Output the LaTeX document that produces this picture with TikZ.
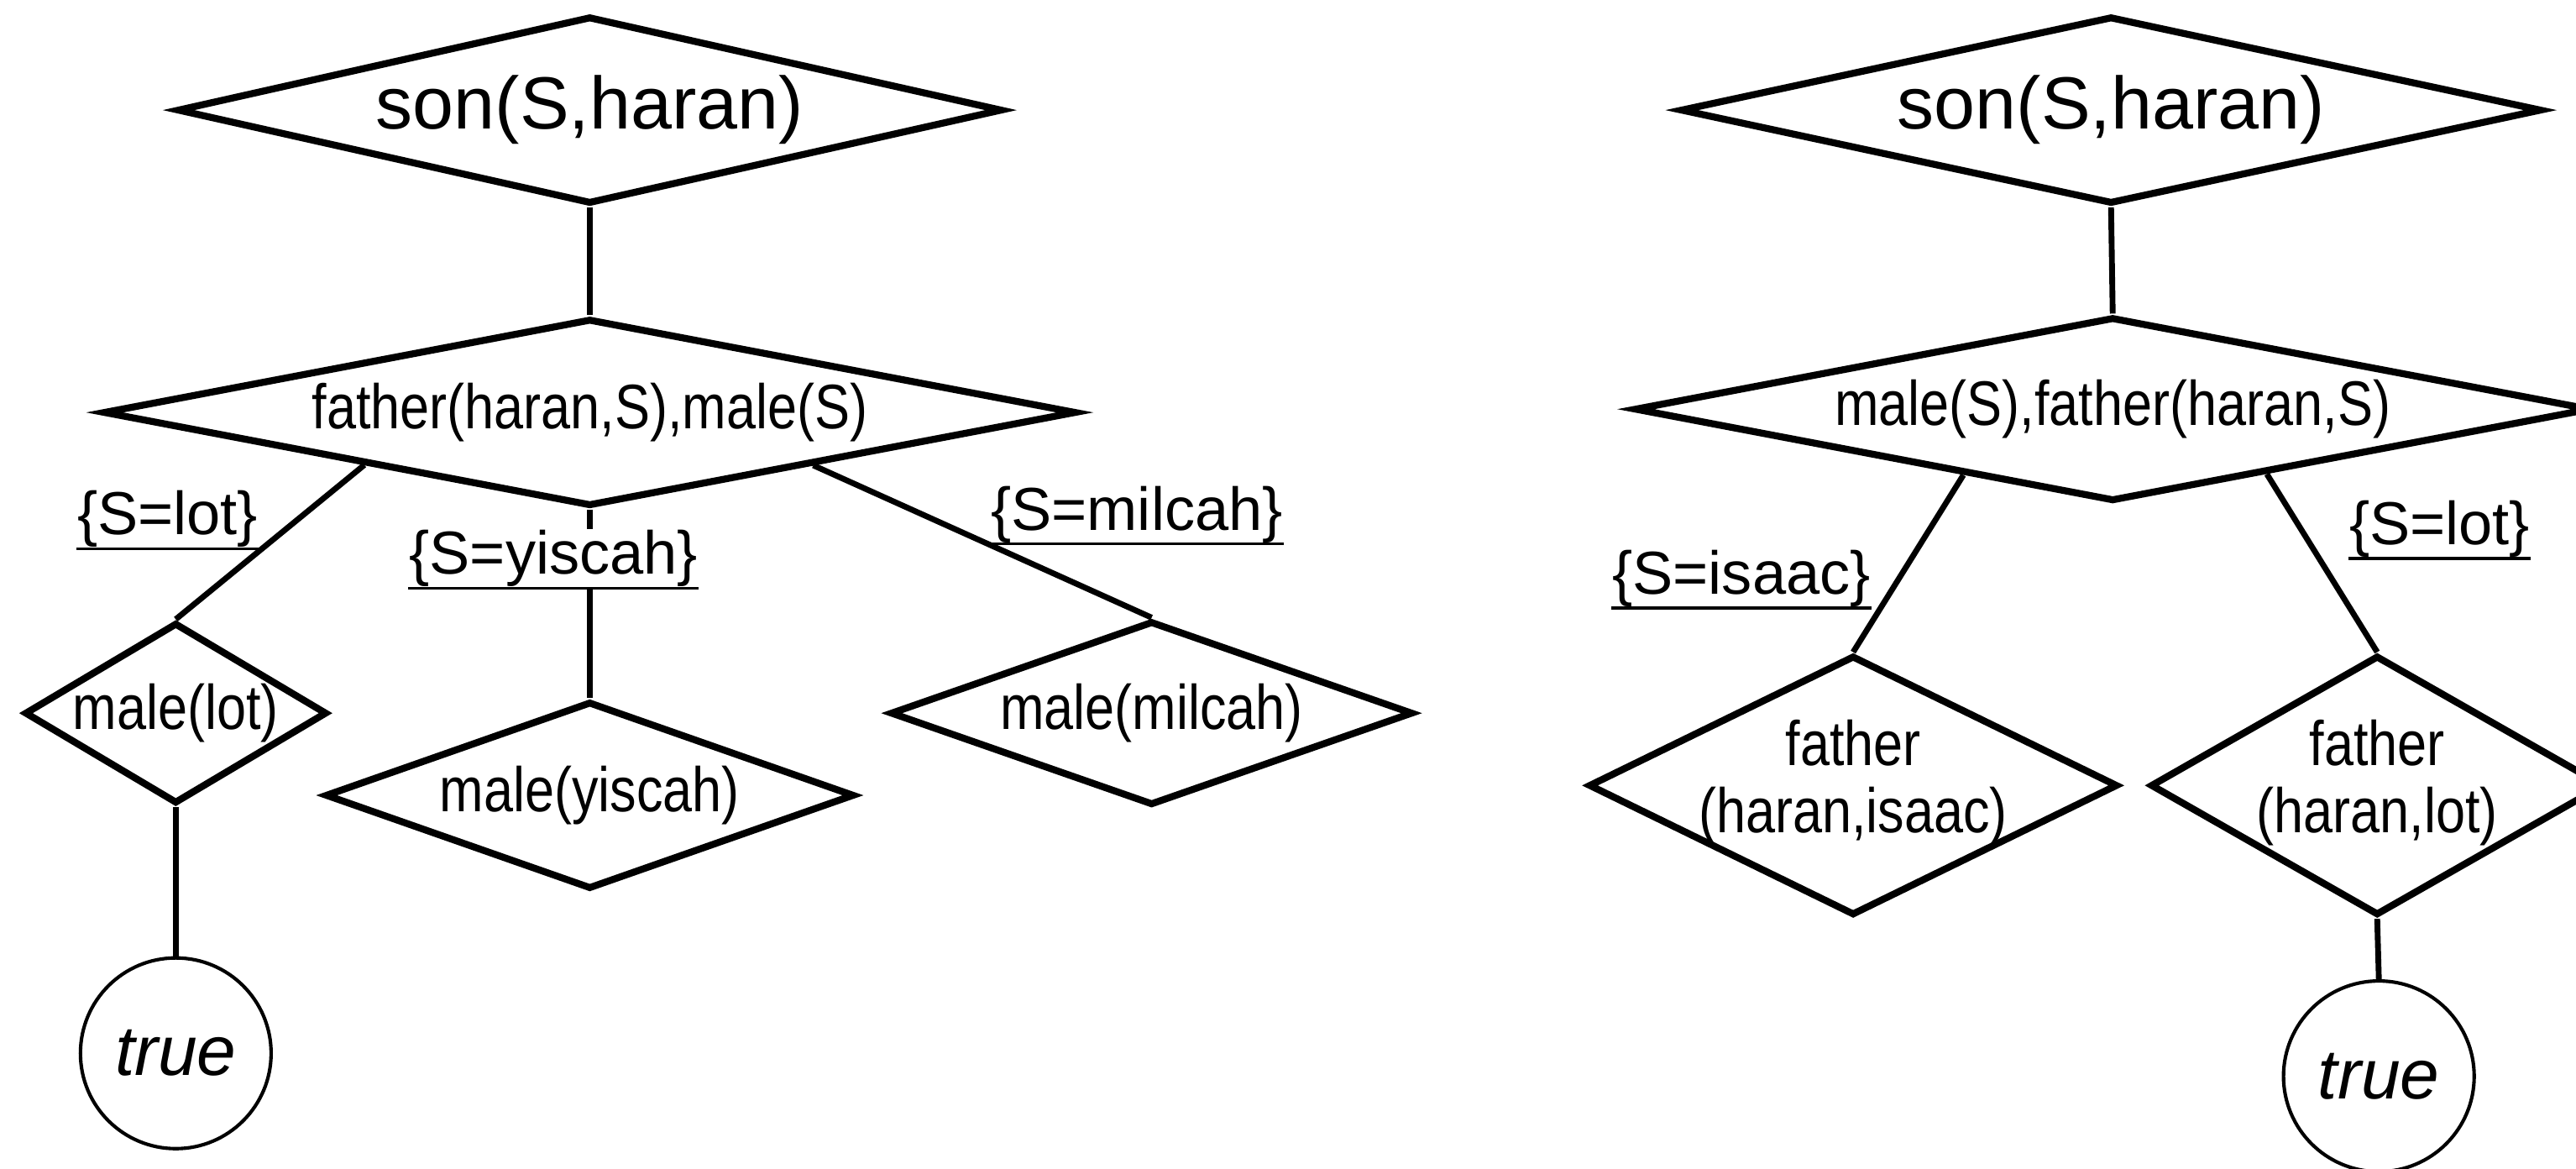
\documentclass[tikz,border=0pt]{standalone}
\usepackage{fontspec}
\setmainfont{Liberation Sans}
\newfontfamily\narrowfont[FakeStretch=0.84]{Liberation Sans}
\usetikzlibrary{shapes.geometric,calc}
\newcommand{\zw}[1]{\makebox[0pt]{#1}}
\begin{document}
\begin{tikzpicture}[x=0.01cm,y=-0.01cm,
  dia/.style={diamond, draw, line width=1.2pt, inner sep=0pt},
  big/.style={font=\fontsize{12.8}{15}\selectfont},
  nar/.style={font=\narrowfont\fontsize{10.9}{11.7}\selectfont},
  lbl/.style={inner sep=0pt, font=\fontsize{10.5}{12}\selectfont,
    append after command={(\tikzlastnode.south west) edge[line width=0.5pt] (\tikzlastnode.south east)}},
  conn/.style={line width=1pt},
  term/.style={circle, draw, line width=0.6pt, minimum size=1.16cm, inner sep=0pt, font=\itshape\fontsize{12.2}{14}\selectfont}]
\useasboundingbox (0,0) rectangle (1568,711);
\clip (0,0) rectangle (1568,711);

% ---------- left tree ----------
\node[dia, big, minimum width=5.02cm, minimum height=1.14cm] (sL) at (359,67) {\zw{son(S,haran)}};
\node[dia, nar, minimum width=5.92cm, minimum height=1.14cm] (fL) at (359,251) {\zw{father(haran,S),male(S)}};
\node[dia, nar, minimum width=1.84cm, minimum height=1.10cm] (mlot) at (107,434) {\zw{male(lot)}};
\node[term] (tL) at (107,641) {true};
\node[dia, nar, minimum width=3.22cm, minimum height=1.14cm] (myis) at (359,484) {\zw{male(yiscah)}};
\node[dia, nar, minimum width=3.18cm, minimum height=1.12cm] (mmil) at (701,434) {\zw{male(milcah)}};

\node[lbl] (llot) at (102,316) {\{S=lot\}};
\node[lbl] (lyis) at (337,340) {\{S=yiscah\}};
\node[lbl] (lmil) at (692,313) {\{S=milcah\}};

\draw[conn] (sL.south) -- (fL.north);
\draw[conn] ($(fL.west)!0.54!(fL.south)$) -- (mlot.north);
\draw[conn] (fL.south) -- (fL.south |- lyis.north);
\draw[conn] (fL.south |- lyis.south) -- (myis.north);
\draw[conn] ($(fL.south)!0.456!(fL.east)$) -- (mmil.north);
\draw[conn] (mlot.south) -- (tL.north);

% ---------- right tree ----------
\node[dia, big, minimum width=5.24cm, minimum height=1.14cm] (sR) at (1285,67) {\zw{son(S,haran)}};
\node[dia, nar, minimum width=5.82cm, minimum height=1.12cm] (fR) at (1286,249) {\zw{male(S),father(haran,S)}};
\node[dia, nar, minimum width=3.22cm, minimum height=1.58cm] (fis) at (1128,478)
  {\zw{\begin{tabular}{@{}c@{}}father\\(haran,isaac)\end{tabular}}};
\node[dia, nar, minimum width=2.76cm, minimum height=1.58cm] (flot) at (1447,478)
  {\zw{\begin{tabular}{@{}c@{}}father\\(haran,lot)\end{tabular}}};
\node[term] (tR) at (1448,655) {true};

\node[lbl] (lis) at (1060,352) {\{S=isaac\}};
\node[lbl] (llotR) at (1485,322) {\{S=lot\}};

\draw[conn] (sR.south) -- (fR.north);
\draw[conn] ($(fR.west)!0.69!(fR.south)$) -- (fis.north);
\draw[conn] ($(fR.south)!0.32!(fR.east)$) -- (flot.north);
\draw[conn] (flot.south) -- (tR.north);
\end{tikzpicture}
\end{document}
